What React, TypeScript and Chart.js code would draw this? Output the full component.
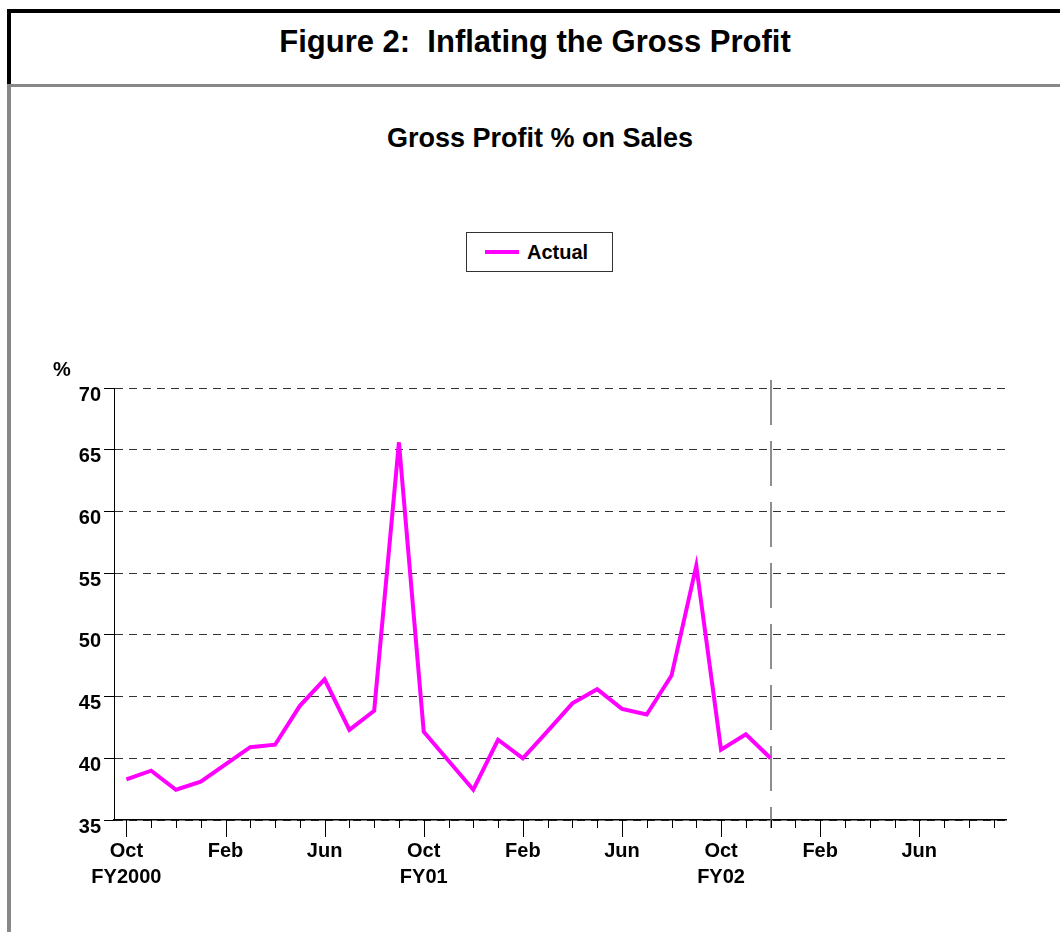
import React, { useEffect, useRef } from 'react';
import { Chart, registerables } from 'chart.js';

Chart.register(...registerables);

// Monthly categories: Oct 2000 .. Sep 2003
const months: string[] = [
  'Oct-00', 'Nov-00', 'Dec-00', 'Jan-01', 'Feb-01', 'Mar-01', 'Apr-01', 'May-01', 'Jun-01', 'Jul-01', 'Aug-01', 'Sep-01',
  'Oct-01', 'Nov-01', 'Dec-01', 'Jan-02', 'Feb-02', 'Mar-02', 'Apr-02', 'May-02', 'Jun-02', 'Jul-02', 'Aug-02', 'Sep-02',
  'Oct-02', 'Nov-02', 'Dec-02', 'Jan-03', 'Feb-03', 'Mar-03', 'Apr-03', 'May-03', 'Jun-03', 'Jul-03', 'Aug-03', 'Sep-03',
];

// Tick labels shown under the axis (empty = minor tick)
const xTickLabels: (string | string[])[] = [
  ['Oct', 'FY2000'], '', '', '', 'Feb', '', '', '', 'Jun', '', '', '',
  ['Oct', 'FY01'], '', '', '', 'Feb', '', '', '', 'Jun', '', '', '',
  ['Oct', 'FY02'], '', '', '', 'Feb', '', '', '', 'Jun', '', '', '',
];

// Gross profit % on sales (Actual)
const actual: number[] = [
  38.3, 39.0, 37.45, 38.1, 39.5, 40.9, 41.1, 44.25, 46.4, 42.3, 43.85, 65.6,
  42.15, 39.8, 37.45, 41.5, 40.0, 42.2, 44.45, 45.6, 44.0, 43.55, 46.7, 55.6,
  40.7, 41.95, 40.0,
];

const yMin = 35;
const yMax = 70;
const yStep = 5;

// Index of the month where the vertical dashed divider sits
const dividerIndex = 26;

const FONT = '"Liberation Sans", Arial, sans-serif';

const decorPlugin = {
  id: 'decor',
  beforeDatasetsDraw(chart: any) {
    const { ctx, chartArea } = chart;
    const xs = chart.scales.x;
    const vx = Math.round(xs.getPixelForValue(dividerIndex));
    ctx.save();
    ctx.strokeStyle = '#6a6a6a';
    ctx.lineWidth = 1.5;
    ctx.setLineDash([45, 16]);
    ctx.beginPath();
    ctx.moveTo(vx, chartArea.top - 8);
    ctx.lineTo(vx, chartArea.bottom + 8);
    ctx.stroke();
    ctx.restore();
  },
  afterDraw(chart: any) {
    const { ctx, chartArea } = chart;
    const xs = chart.scales.x;
    ctx.save();
    ctx.strokeStyle = '#000';
    ctx.lineWidth = 1;
    for (let i = 0; i < months.length; i++) {
      const px = Math.round(xs.getPixelForTick(i)) + 0.5;
      const len = xTickLabels[i] !== '' ? 17 : 8;
      ctx.beginPath();
      ctx.moveTo(px, chartArea.bottom);
      ctx.lineTo(px, chartArea.bottom + len);
      ctx.stroke();
    }
    ctx.restore();
  },
};

function GrossProfitChart() {
  const ref = useRef<HTMLCanvasElement | null>(null);
  useEffect(() => {
    if (!ref.current) return;
    const chart = new Chart(ref.current, {
      type: 'line',
      data: {
        labels: months,
        datasets: [
          {
            label: 'Actual',
            data: actual,
            borderColor: '#FF00FF',
            backgroundColor: '#FF00FF',
            borderWidth: 4,
            pointRadius: 0,
            tension: 0,
            fill: false,
            borderJoinStyle: 'miter',
          },
        ],
      },
      options: {
        animation: false,
        responsive: false,
        devicePixelRatio: 1,
        layout: { padding: { left: 12, top: 388, right: 54, bottom: 32 } },
        plugins: {
          legend: { display: false },
          title: { display: false },
          tooltip: { enabled: false },
        },
        scales: {
          x: {
            type: 'category',
            offset: true,
            grid: { display: false, drawTicks: false },
            border: { display: true, color: '#000', width: 1.5 },
            ticks: {
              autoSkip: false,
              maxRotation: 0,
              minRotation: 0,
              padding: 18,
              color: '#000',
              font: { family: FONT, size: 20, weight: 'bold', lineHeight: 1.3 },
              callback: (_v: any, i: number) => xTickLabels[i],
            },
            afterFit: (scale: any) => { scale.height = 80; },
          },
          y: {
            min: yMin,
            max: yMax,
            grid: {
              color: '#333',
              lineWidth: 1,
              drawTicks: true,
              tickLength: 10,
              tickColor: '#000',
              tickWidth: 1,
            },
            border: { display: true, color: '#000', width: 1, dash: [8, 6] },
            ticks: {
              stepSize: yStep,
              padding: 3,
              color: '#000',
              font: { family: FONT, size: 20, weight: 'bold', lineHeight: 0.7 },
              callback: (v: any) => ['', String(v)],
            },
            afterFit: (scale: any) => { scale.width = 102; },
          },
        },
      },
      plugins: [decorPlugin],
    } as any);
    return () => chart.destroy();
  }, []);
  return (
    <canvas
      ref={ref}
      width={1060}
      height={932}
      style={{ position: 'absolute', left: 0, top: 0, width: 1060, height: 932 }}
    />
  );
}

export default function App() {
  return (
    <div
      style={{
        position: 'absolute',
        left: 0,
        top: 0,
        width: 1060,
        height: 932,
        overflow: 'hidden',
        background: '#fff',
        fontFamily: FONT,
        color: '#000',
      }}
    >
      {/* header box borders */}
      <div style={{ position: 'absolute', left: 7, top: 9, width: 1100, height: 4, background: '#000' }} />
      <div style={{ position: 'absolute', left: 7, top: 9, width: 4, height: 76, background: '#000' }} />
      <div style={{ position: 'absolute', left: 7, top: 84, width: 1060, height: 3, background: '#888' }} />
      <div style={{ position: 'absolute', left: 7, top: 85, width: 4, height: 860, background: '#888' }} />

      <div
        style={{
          position: 'absolute', left: 0, top: 26, width: 1070, textAlign: 'center',
          fontSize: 31, lineHeight: '31px', fontWeight: 'bold', whiteSpace: 'nowrap',
        }}
      >
        Figure 2:&nbsp; Inflating the Gross Profit
      </div>

      <div
        style={{
          position: 'absolute', left: 0, top: 125, width: 1080, textAlign: 'center',
          fontSize: 27, lineHeight: '27px', fontWeight: 'bold', whiteSpace: 'nowrap',
        }}
      >
        Gross Profit % on Sales
      </div>

      <GrossProfitChart />

      {/* legend */}
      <div
        style={{
          position: 'absolute', left: 466, top: 232, width: 147, height: 40,
          border: '1px solid #333', boxSizing: 'border-box', background: '#fff',
        }}
      >
        <div style={{ position: 'absolute', left: 18, top: 17, width: 34, height: 4, background: '#FF00FF' }} />
        <div
          style={{
            position: 'absolute', left: 60, top: 9, fontSize: 20, lineHeight: '20px',
            fontWeight: 'bold', whiteSpace: 'nowrap',
          }}
        >
          Actual
        </div>
      </div>

      <div
        style={{
          position: 'absolute', left: 53, top: 359, fontSize: 20, lineHeight: '20px', fontWeight: 'bold',
        }}
      >
        %
      </div>
    </div>
  );
}
